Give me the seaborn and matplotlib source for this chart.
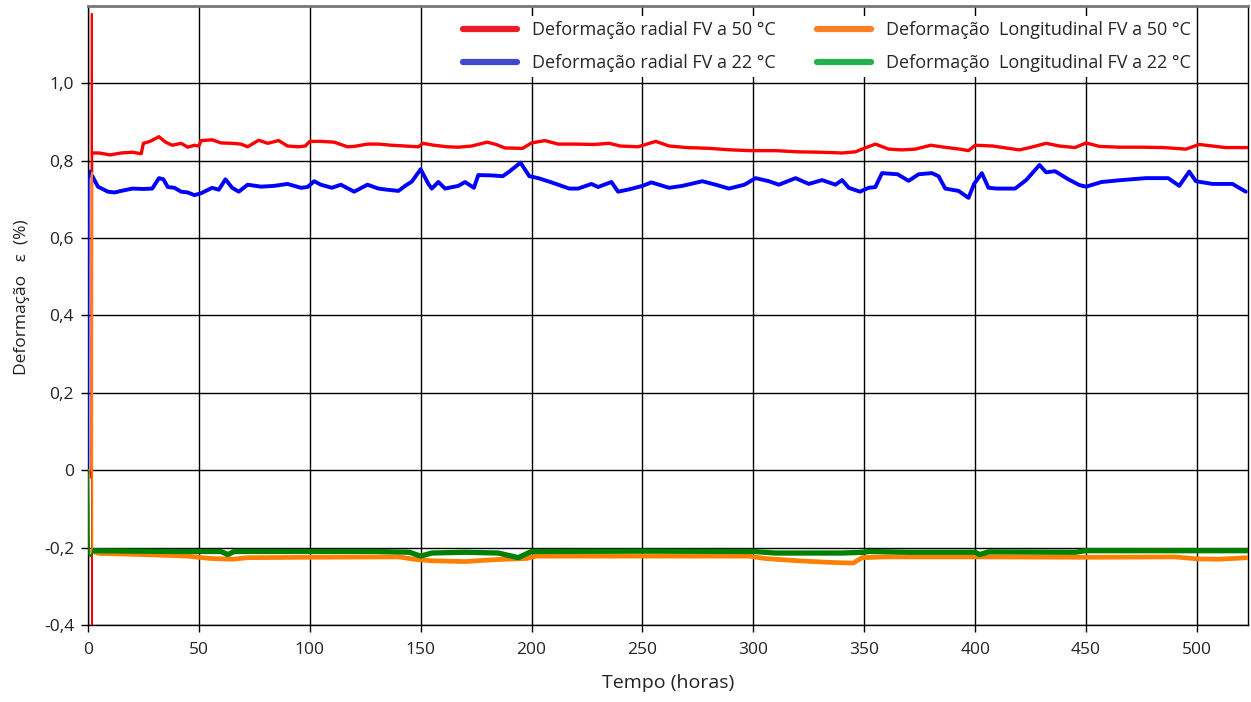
import numpy as np
import pandas as pd
import matplotlib
matplotlib.use("Agg")
import matplotlib.pyplot as plt
from matplotlib.lines import Line2D
from matplotlib.ticker import FuncFormatter
import seaborn as sns

# valores (tempo em horas, deformacao em %)
radial_50_t = [0, 1.0, 1.5, 1.7, 1.8, 2.0, 5, 10, 15, 20, 24, 25, 28, 32, 35, 38, 42, 45, 48, 50,
               51, 56, 60, 65, 69, 72, 77, 81, 86, 90, 95, 98, 100, 105, 111, 117, 120, 126, 131,
               137, 143, 149, 151, 156, 162, 167, 173, 180, 184, 188, 196, 200, 206, 212, 220, 228,
               235, 240, 248, 256, 262, 270, 280, 290, 299, 310, 320, 330, 340, 346, 349, 355, 361,
               367, 373, 380, 386, 393, 397, 400, 408, 415, 420, 426, 432, 438, 445, 450, 456, 465,
               475, 485, 495, 501, 507, 513, 523]
radial_50_v = [0.0, 0.0, -0.02, 1.18, -0.40, 0.82, 0.82, 0.815, 0.82, 0.822, 0.818, 0.845, 0.85,
               0.862, 0.848, 0.84, 0.845, 0.835, 0.84, 0.838, 0.852, 0.854, 0.846, 0.845, 0.843,
               0.836, 0.853, 0.845, 0.852, 0.838, 0.836, 0.838, 0.85, 0.85, 0.848, 0.836, 0.837,
               0.843, 0.843, 0.84, 0.838, 0.836, 0.845, 0.84, 0.836, 0.835, 0.838, 0.848, 0.842,
               0.833, 0.832, 0.846, 0.852, 0.843, 0.843, 0.842, 0.845, 0.838, 0.836, 0.85, 0.838,
               0.834, 0.832, 0.828, 0.826, 0.826, 0.823, 0.822, 0.82, 0.823, 0.83, 0.843, 0.83,
               0.828, 0.83, 0.84, 0.835, 0.83, 0.826, 0.84, 0.838, 0.832, 0.828, 0.836, 0.845,
               0.838, 0.834, 0.846, 0.837, 0.835, 0.835, 0.834, 0.83, 0.842, 0.838, 0.834, 0.834]

radial_22_t = [0, 0.3, 1, 2, 4.5, 9, 12, 15, 20, 25, 29, 32, 34, 36, 39, 42, 45, 48, 51, 56, 59,
               62, 65, 68, 72, 78, 84, 90, 96, 99, 102, 105, 110, 114, 120, 126, 131, 135, 140,
               143, 146, 150, 153.5, 155, 158, 161, 167, 170, 174, 176, 182, 187, 190, 195, 199,
               203, 209, 217, 221, 227, 230, 236, 239, 244, 250, 254, 262, 268, 277, 283, 289,
               296, 301, 307, 311.5, 319, 325, 331, 337, 340, 343, 348, 352, 355, 358, 365, 370,
               374.5, 380.5, 383.5, 386.5, 392.5, 397, 399.5, 403, 406, 410, 418, 423, 429, 432,
               436, 442, 447, 450, 457, 466, 477, 487, 492, 496.5, 499.5, 507, 516, 522]
radial_22_v = [0.0, 0.75, 0.775, 0.76, 0.733, 0.72, 0.718, 0.722, 0.728, 0.727, 0.728, 0.755,
               0.752, 0.732, 0.73, 0.72, 0.718, 0.711, 0.716, 0.73, 0.725, 0.752, 0.73, 0.72,
               0.738, 0.733, 0.735, 0.74, 0.73, 0.732, 0.747, 0.738, 0.73, 0.738, 0.72, 0.738,
               0.728, 0.725, 0.722, 0.735, 0.746, 0.778, 0.74, 0.728, 0.745, 0.728, 0.735, 0.745,
               0.73, 0.763, 0.762, 0.76, 0.772, 0.795, 0.76, 0.755, 0.744, 0.728, 0.728, 0.74,
               0.732, 0.745, 0.72, 0.726, 0.735, 0.744, 0.73, 0.735, 0.747, 0.738, 0.728, 0.738,
               0.755, 0.747, 0.738, 0.755, 0.74, 0.75, 0.738, 0.75, 0.73, 0.72, 0.73, 0.732,
               0.768, 0.765, 0.748, 0.765, 0.768, 0.76, 0.728, 0.722, 0.704, 0.74, 0.768, 0.73,
               0.728, 0.728, 0.75, 0.789, 0.77, 0.773, 0.752, 0.737, 0.733, 0.745, 0.75, 0.755,
               0.755, 0.735, 0.772, 0.747, 0.74, 0.74, 0.72]

long_50_t = [0, 1.7, 1.8, 2.0, 5, 25, 45, 55, 65, 72, 100, 140, 147, 155, 170, 184, 198, 202,
             260, 298, 305, 320, 334, 345, 349, 360, 400, 450, 490, 500, 510, 523]
long_50_v = [0.0, 0.0, 0.77, -0.21, -0.215, -0.218, -0.222, -0.228, -0.23, -0.226, -0.225,
             -0.224, -0.23, -0.234, -0.236, -0.231, -0.228, -0.222, -0.222, -0.222, -0.228,
             -0.234, -0.238, -0.24, -0.226, -0.224, -0.224, -0.225, -0.224, -0.229, -0.23, -0.226]

long_22_t = [0, 0.3, 0.5, 1, 3, 20, 40, 60, 63, 66, 100, 130, 145, 150, 155, 170, 185, 194, 200,
             250, 300, 310, 340, 350, 352, 370, 400, 402, 406, 445, 450, 500, 523]
long_22_v = [0.0, -0.11, -0.215, -0.222, -0.208, -0.209, -0.21, -0.21, -0.218, -0.21, -0.21,
             -0.21, -0.212, -0.222, -0.214, -0.212, -0.214, -0.226, -0.21, -0.209, -0.21, -0.214,
             -0.214, -0.212, -0.21, -0.212, -0.212, -0.218, -0.211, -0.212, -0.208, -0.208, -0.208]

labels = ["Deformação radial FV a 50 °C", "Deformação radial FV a 22 °C",
          "Deformação  Longitudinal FV a 50 °C", "Deformação  Longitudinal FV a 22 °C"]
line_colors = ["#ff0000", "#0000ff", "#ff8000", "#008000"]
legend_colors = ["#ed1c24", "#3f48cc", "#ff7f27", "#22b14c"]
line_widths = [2.4, 2.8, 3.4, 3.8]

x_ticks = [0, 50, 100, 150, 200, 250, 300, 350, 400, 450, 500]
y_ticks = [-0.4, -0.2, 0, 0.2, 0.4, 0.6, 0.8, 1.0]


def main():
    sns.set_style("white")
    plt.rcParams["font.family"] = ["Open Sans", "DejaVu Sans"]

    series = [(radial_50_t, radial_50_v), (radial_22_t, radial_22_v),
              (long_50_t, long_50_v), (long_22_t, long_22_v)]
    frames = []
    for lab, (t, v) in zip(labels, series):
        frames.append(pd.DataFrame({"t": t, "v": v, "serie": lab}))
    df = pd.concat(frames, ignore_index=True)

    fig = plt.figure(figsize=(12.51, 7.02), dpi=100)
    ax = fig.add_axes([0.0703, 0.1097, 0.9273, 0.8818])

    # ordem de desenho: azul, vermelho, laranja, verde
    for i in [1, 0, 2, 3]:
        sub = df[df.serie == labels[i]]
        # transitorio inicial em traco fino, o resto em traco grosso
        sns.lineplot(data=sub, x="t", y="v", color=line_colors[i], linewidth=1.3,
                     estimator=None, sort=False, ax=ax, legend=False, zorder=3 + i)
        sns.lineplot(data=sub[sub.t >= 2], x="t", y="v", color=line_colors[i],
                     linewidth=line_widths[i], estimator=None, sort=False, ax=ax,
                     legend=False, zorder=3 + i)

    ax.set_xlim(0, 523)
    ax.set_ylim(-0.4, 1.2)
    ax.set_xticks(x_ticks)
    ax.set_yticks(y_ticks)
    ax.yaxis.set_major_formatter(FuncFormatter(
        lambda y, p: "0" if abs(y) < 1e-9 else f"{y:.1f}".replace(".", ",")))
    ax.grid(True, color="black", linewidth=1.0)
    ax.set_axisbelow(True)

    for s in ["left", "bottom", "right"]:
        ax.spines[s].set_color("black")
        ax.spines[s].set_linewidth(1.0)
    ax.spines["top"].set_color("#777777")
    ax.spines["top"].set_linewidth(2.0)

    ax.tick_params(axis="both", which="major", direction="out", length=5, width=1,
                   color="black", labelsize=12.5, labelcolor="#222222", pad=5)
    ax.tick_params(axis="x", pad=7)
    ax.tick_params(top=False, right=False, bottom=True, left=True)

    ax.set_xlabel("Tempo (horas)", fontsize=14, color="#222222", labelpad=12)
    ax.set_ylabel("Deformação   ε  (%)", fontsize=12.5, color="#222222")
    ax.yaxis.set_label_coords(-0.05, 0.53)

    handles = [Line2D([], [], color=c, linewidth=4.5, solid_capstyle="round") for c in legend_colors]
    leg = ax.legend(handles, labels, ncol=2, loc="upper left", bbox_to_anchor=(0.311, 0.999),
                    frameon=True, framealpha=1.0, facecolor="white", edgecolor="white",
                    fontsize=13, handlelength=3.0, handletextpad=0.8, columnspacing=2.3,
                    labelspacing=0.82, borderpad=0.3)
    leg.get_frame().set_linewidth(0)
    leg.set_zorder(20)

    plt.savefig("out.png", dpi=100)
    plt.close()


if __name__ == "__main__":
    main()
